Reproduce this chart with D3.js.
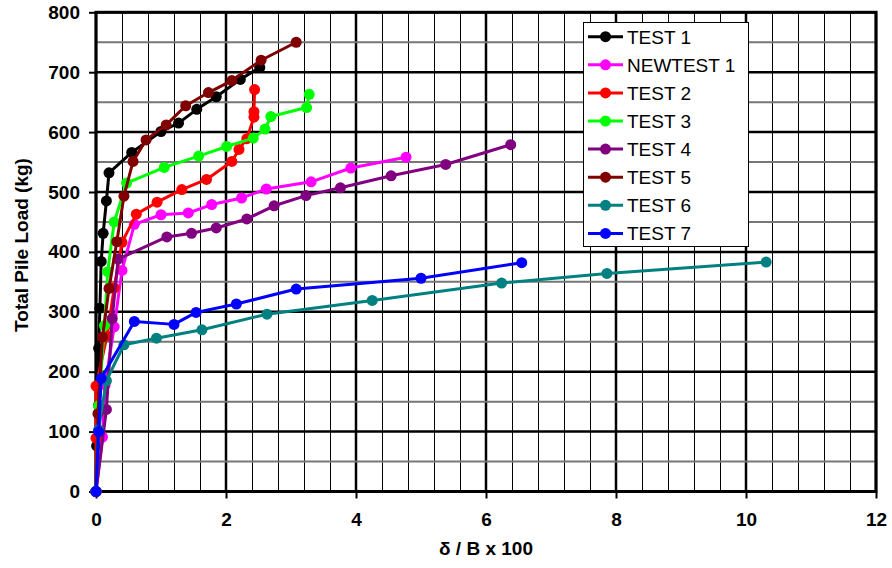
<!DOCTYPE html>
<html>
<head>
<meta charset="utf-8">
<script src="https://cdn.jsdelivr.net/npm/d3@7"></script>
<style>
  html, body { margin: 0; padding: 0; background: #fff; }
  svg { display: block; }
  text { font-family: Arial, "Liberation Sans", sans-serif; }
</style>
</head>
<body>
<svg id="chart" width="892" height="568"></svg>
<script>
// ---------- data ----------
const seriesNames = ["TEST 1", "NEWTEST 1", "TEST 2", "TEST 3", "TEST 4", "TEST 5", "TEST 6", "TEST 7"];
const seriesColors = ["#000000", "#FF00FF", "#FF0000", "#00FF00", "#800080", "#800000", "#008080", "#0000FF"];

const test1 = [[0,0],[0.01,76],[0.04,144],[0.04,239],[0.06,306],[0.08,384],[0.11,431],[0.16,485],[0.20,532],[0.55,566],[1.00,601],[1.27,615],[1.55,638],[1.85,659],[2.22,688],[2.52,708]];
const newtest1 = [[0,0],[0.10,91],[0.14,178],[0.28,275],[0.40,369],[0.59,446],[1.00,462],[1.42,465],[1.78,479],[2.24,490],[2.62,505],[3.31,517],[3.92,540],[4.77,558]];
const test2 = [[0,0],[0.00,89],[0.00,176],[0.17,260],[0.28,340],[0.40,416],[0.62,463],[0.94,483],[1.32,504],[1.70,521],[2.09,551],[2.20,571],[2.32,589],[2.43,625],[2.43,634],[2.44,671]];
const test3 = [[0,0],[0.04,143],[0.13,277],[0.18,367],[0.28,450],[0.47,515],[1.05,541],[1.58,560],[2.01,576],[2.42,590],[2.60,605],[2.69,626],[3.24,641],[3.28,663]];
const test4 = [[0,0],[0.16,137],[0.25,289],[0.34,388],[1.09,425],[1.47,431],[1.85,440],[2.32,455],[2.74,477],[3.23,494],[3.76,507],[4.54,527],[5.38,546],[6.38,579]];
const test5 = [[0,0],[0.03,130],[0.10,258],[0.20,339],[0.32,417],[0.43,493],[0.57,551],[0.77,587],[1.08,612],[1.38,644],[1.73,666],[2.09,686],[2.54,720],[3.08,750]];
const test6 = [[0,0],[0.04,103],[0.16,185],[0.43,245],[0.93,256],[1.63,270],[2.63,296],[4.25,319],[6.24,348],[7.86,364],[10.31,383]];
const test7 = [[0,0],[0.04,100],[0.08,189],[0.59,284],[1.20,279],[1.54,299],[2.16,313],[3.08,338],[5.00,356],[6.55,382]];

const seriesData = [test1, newtest1, test2, test3, test4, test5, test6, test7];

const xTicks = [0, 2, 4, 6, 8, 10, 12];
const yTicks = [0, 100, 200, 300, 400, 500, 600, 700, 800];
const xTitle = "δ / B x 100";
const yTitle = "Total Pile Load (kg)";

// ---------- layout ----------
const svg = d3.select("#chart");
const L = 96, R = 876, T = 12.3, B = 491.5;
const x = d3.scaleLinear().domain([0, 12]).range([L, R]);
const y = d3.scaleLinear().domain([0, 800]).range([B, T]);

svg.append("rect").attr("width", 892).attr("height", 568).attr("fill", "#fff");

// grid
const g = svg.append("g");
const vGrid = d3.range(0, 12.0001, 0.4).map(v => +v.toFixed(1));
vGrid.forEach(v => {
  const major = Math.abs(v / 2 - Math.round(v / 2)) < 1e-6;
  g.append("line")
    .attr("x1", x(v)).attr("x2", x(v)).attr("y1", T).attr("y2", B)
    .attr("stroke", "#000").attr("stroke-width", major ? 2.5 : 1)
    .attr("shape-rendering", major ? "auto" : "crispEdges");
});
d3.range(0, 801, 50).forEach(v => {
  const major = v % 100 === 0;
  g.append("line")
    .attr("x1", L).attr("x2", R).attr("y1", y(v)).attr("y2", y(v))
    .attr("stroke", major ? "#000" : "#777").attr("stroke-width", major ? 2.5 : 2);
});

// axes
const xAxis = svg.append("g").attr("transform", `translate(0,${B})`)
  .call(d3.axisBottom(x).tickValues(xTicks).tickSize(7).tickSizeOuter(0).tickPadding(14));
const yAxis = svg.append("g").attr("transform", `translate(${L},0)`)
  .call(d3.axisLeft(y).tickValues(yTicks).tickSize(7).tickSizeOuter(0).tickPadding(9));
[xAxis, yAxis].forEach(a => {
  a.select(".domain").remove();
  a.selectAll(".tick line").attr("stroke", "#000").attr("stroke-width", 2);
  a.selectAll(".tick text").attr("fill", "#000")
    .style("font-family", "Arial, 'Liberation Sans', sans-serif")
    .style("font-size", "19px").style("font-weight", "bold");
});

// border
svg.append("rect").attr("x", L).attr("y", T).attr("width", R - L).attr("height", B - T)
  .attr("fill", "none").attr("stroke", "#000").attr("stroke-width", 3);

// titles
svg.append("text").attr("x", (L + R) / 2).attr("y", 555).attr("text-anchor", "middle")
  .style("font-size", "19px").style("font-weight", "bold").text(xTitle);
svg.append("text").attr("transform", "translate(28,245) rotate(-90)").attr("text-anchor", "middle")
  .style("font-size", "19px").style("font-weight", "bold").text(yTitle);

// series
const line = d3.line().x(d => x(d[0])).y(d => y(d[1]));
seriesData.forEach((data, i) => {
  const sg = svg.append("g");
  sg.append("path").datum(data).attr("d", line)
    .attr("fill", "none").attr("stroke", seriesColors[i]).attr("stroke-width", 3)
    .attr("stroke-linejoin", "round");
  sg.selectAll("circle").data(data).enter().append("circle")
    .attr("cx", d => x(d[0])).attr("cy", d => y(d[1])).attr("r", 5.5)
    .attr("fill", seriesColors[i]);
});

// legend
const lg = svg.append("g");
lg.append("rect").attr("x", 583.5).attr("y", 22.5).attr("width", 165).attr("height", 224)
  .attr("fill", "#fff").attr("stroke", "#000").attr("stroke-width", 1);
seriesNames.forEach((name, i) => {
  const cy = 36.7 + i * 28.1;
  lg.append("line").attr("x1", 588).attr("x2", 623).attr("y1", cy).attr("y2", cy)
    .attr("stroke", seriesColors[i]).attr("stroke-width", 3);
  lg.append("circle").attr("cx", 605.5).attr("cy", cy).attr("r", 5.5).attr("fill", seriesColors[i]);
  lg.append("text").attr("x", 627).attr("y", cy + 7).style("font-size", "19px").text(name);
});
</script>
</body>
</html>
